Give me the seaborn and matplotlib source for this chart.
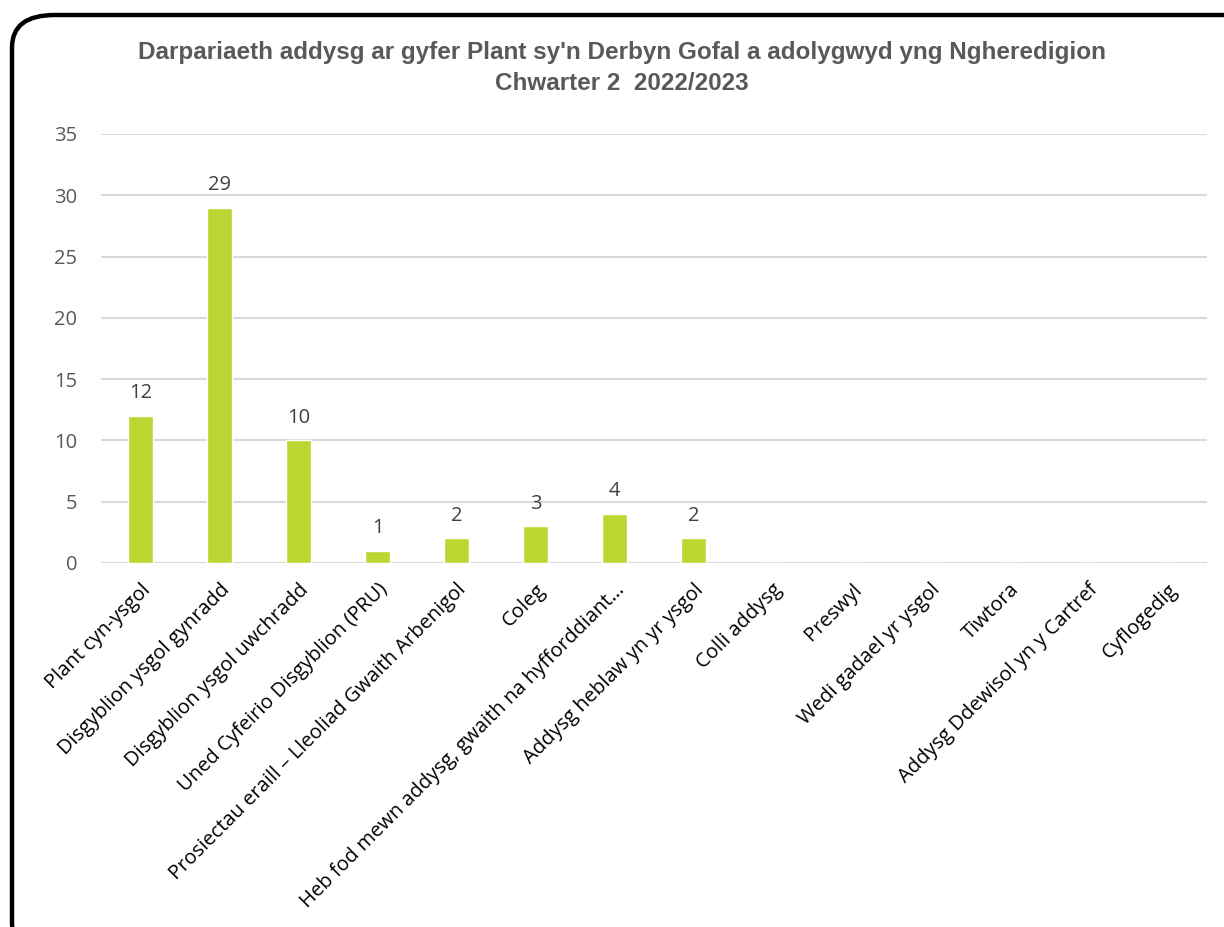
import matplotlib
matplotlib.use("Agg")
import matplotlib.pyplot as plt
import seaborn as sns
import pandas as pd
from matplotlib.patches import FancyBboxPatch

categories = [
    "Plant cyn-ysgol",
    "Disgyblion ysgol gynradd",
    "Disgyblion ysgol uwchradd",
    "Uned Cyfeirio Disgyblion (PRU)",
    "Prosiectau eraill – Lleoliad Gwaith Arbenigol",
    "Coleg",
    "Heb fod mewn addysg, gwaith na hyfforddiant…",
    "Addysg heblaw yn yr ysgol",
    "Colli addysg",
    "Preswyl",
    "Wedi gadael yr ysgol",
    "Tiwtora",
    "Addysg Ddewisol yn y Cartref",
    "Cyflogedig",
]
values = [12, 29, 10, 1, 2, 3, 4, 2, 0, 0, 0, 0, 0, 0]
title_text = "Darpariaeth addysg ar gyfer Plant sy'n Derbyn Gofal a adolygwyd yng Ngheredigion\nChwarter 2  2022/2023"

sns.set_theme(style="white")
plt.rcParams['font.family'] = ['Open Sans', 'DejaVu Sans']

df = pd.DataFrame({"cat": categories, "val": values})

fig = plt.figure(figsize=(12.24, 9.27), dpi=100)
ax = fig.add_axes([101 / 1224, 1 - 563 / 927, 1106 / 1224, (563 - 134) / 927])

sns.barplot(data=df, x="cat", y="val", color="#BCD631", saturation=1, width=0.32, ax=ax)

ax.set_ylim(0, 35)
ax.set_yticks(range(0, 36, 5))
ax.yaxis.grid(True, color="#D9D9D9", linewidth=1.5)
ax.set_axisbelow(True)
for s in ax.spines.values():
    s.set_visible(False)
ax.set_xlabel("")
ax.set_ylabel("")
ax.tick_params(axis="y", length=0, labelsize=14.5, labelcolor="#595959", pad=17)
ax.tick_params(axis="x", length=0, labelsize=14.5, labelcolor="#000000", pad=12)
ax.set_xticks(range(len(categories)))
ax.set_xticklabels(categories, rotation=45, ha="right", rotation_mode="anchor")
ax.set_xlim(-0.5, len(categories) - 0.5)

for i, v in enumerate(values):
    if v > 0:
        ax.annotate(str(v), (i, v), xytext=(0, 9), textcoords="offset points",
                    ha="center", va="bottom", fontsize=14.5, color="#404040")

fig.text(0.508, 0.927, title_text, ha="center", va="center", fontsize=17.5,
         fontweight="bold", color="#595959", family=["Liberation Sans Narrow", "Liberation Sans", "DejaVu Sans"],
         linespacing=1.44)

box = FancyBboxPatch((12 / 1224, -0.03), 1.03, (927 - 15) / 927 + 0.03,
                     boxstyle="round,pad=0,rounding_size=0.035",
                     transform=fig.transFigure, fill=False, edgecolor="black",
                     linewidth=3.2, clip_on=False)
fig.patches.append(box)

fig.savefig("out.png", dpi=100)
